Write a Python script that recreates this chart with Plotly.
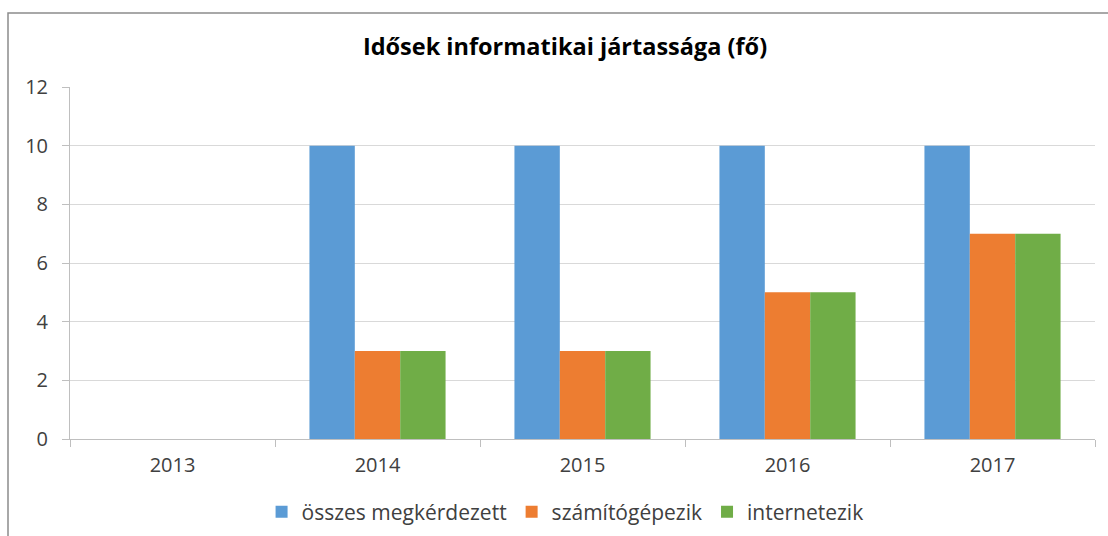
import plotly.graph_objects as go

# Survey data: number of elderly respondents per year
years = ["2013", "2014", "2015", "2016", "2017"]
osszes = [0, 10, 10, 10, 10]
szamitogep = [0, 3, 3, 5, 7]
internet = [0, 3, 3, 5, 7]

series = [
    ("összes megkérdezett", osszes, "#5B9BD5"),
    ("számítógépezik", szamitogep, "#ED7D31"),
    ("internetezik", internet, "#70AD47"),
]

FONT = "Open Sans"
PLOT_L, PLOT_R, PLOT_T, PLOT_B = 70, 1095, 87, 439

fig = go.Figure()
for name, vals, color in series:
    fig.add_trace(go.Bar(x=years, y=vals, name=name, marker_color=color,
                         marker_line_width=0))

fig.update_layout(
    width=1108, height=536,
    margin=dict(l=PLOT_L, r=1108 - PLOT_R, t=PLOT_T, b=536 - PLOT_B, autoexpand=False),
    paper_bgcolor="white", plot_bgcolor="white",
    barmode="group", bargap=0.336, bargroupgap=0,
    font=dict(family=FONT, size=20, color="#404040"),
    title=dict(text="<b>Idősek informatikai jártassága (fő)</b>",
               x=565 / 1108, xanchor="center", y=1 - 47 / 536, yanchor="middle",
               font=dict(family=FONT, size=23.5, color="#000000")),
    legend=dict(orientation="h", x=0.483, xanchor="center",
                y=(PLOT_B - 512) / (PLOT_B - PLOT_T), yanchor="middle",
                font=dict(family=FONT, size=21, color="#404040"),
                itemwidth=30, traceorder="normal"),
    showlegend=True,
)

fig.update_yaxes(range=[0, 12], dtick=2, showgrid=True, gridcolor="#D9D9D9", gridwidth=1,
                 showline=True, linecolor="#BFBFBF", linewidth=1,
                 ticks="outside", ticklen=7, tickcolor="#BFBFBF", zeroline=False,
                 ticklabelstandoff=10, fixedrange=True)
fig.update_xaxes(showline=True, linecolor="#BFBFBF", linewidth=1,
                 ticks="outside", ticklen=7, tickcolor="#BFBFBF", tickson="boundaries",
                 ticklabelstandoff=8, fixedrange=True)

# Chart frame (top and left edges visible)
fig.add_shape(type="rect", xref="paper", yref="paper",
              x0=(8 - PLOT_L) / (PLOT_R - PLOT_L), x1=1.3, y0=-0.6,
              y1=(PLOT_B - 13) / (PLOT_B - PLOT_T),
              line=dict(color="#8C8C8C", width=1.5), fillcolor="rgba(0,0,0,0)", layer="below")

fig.write_html("out.html")
